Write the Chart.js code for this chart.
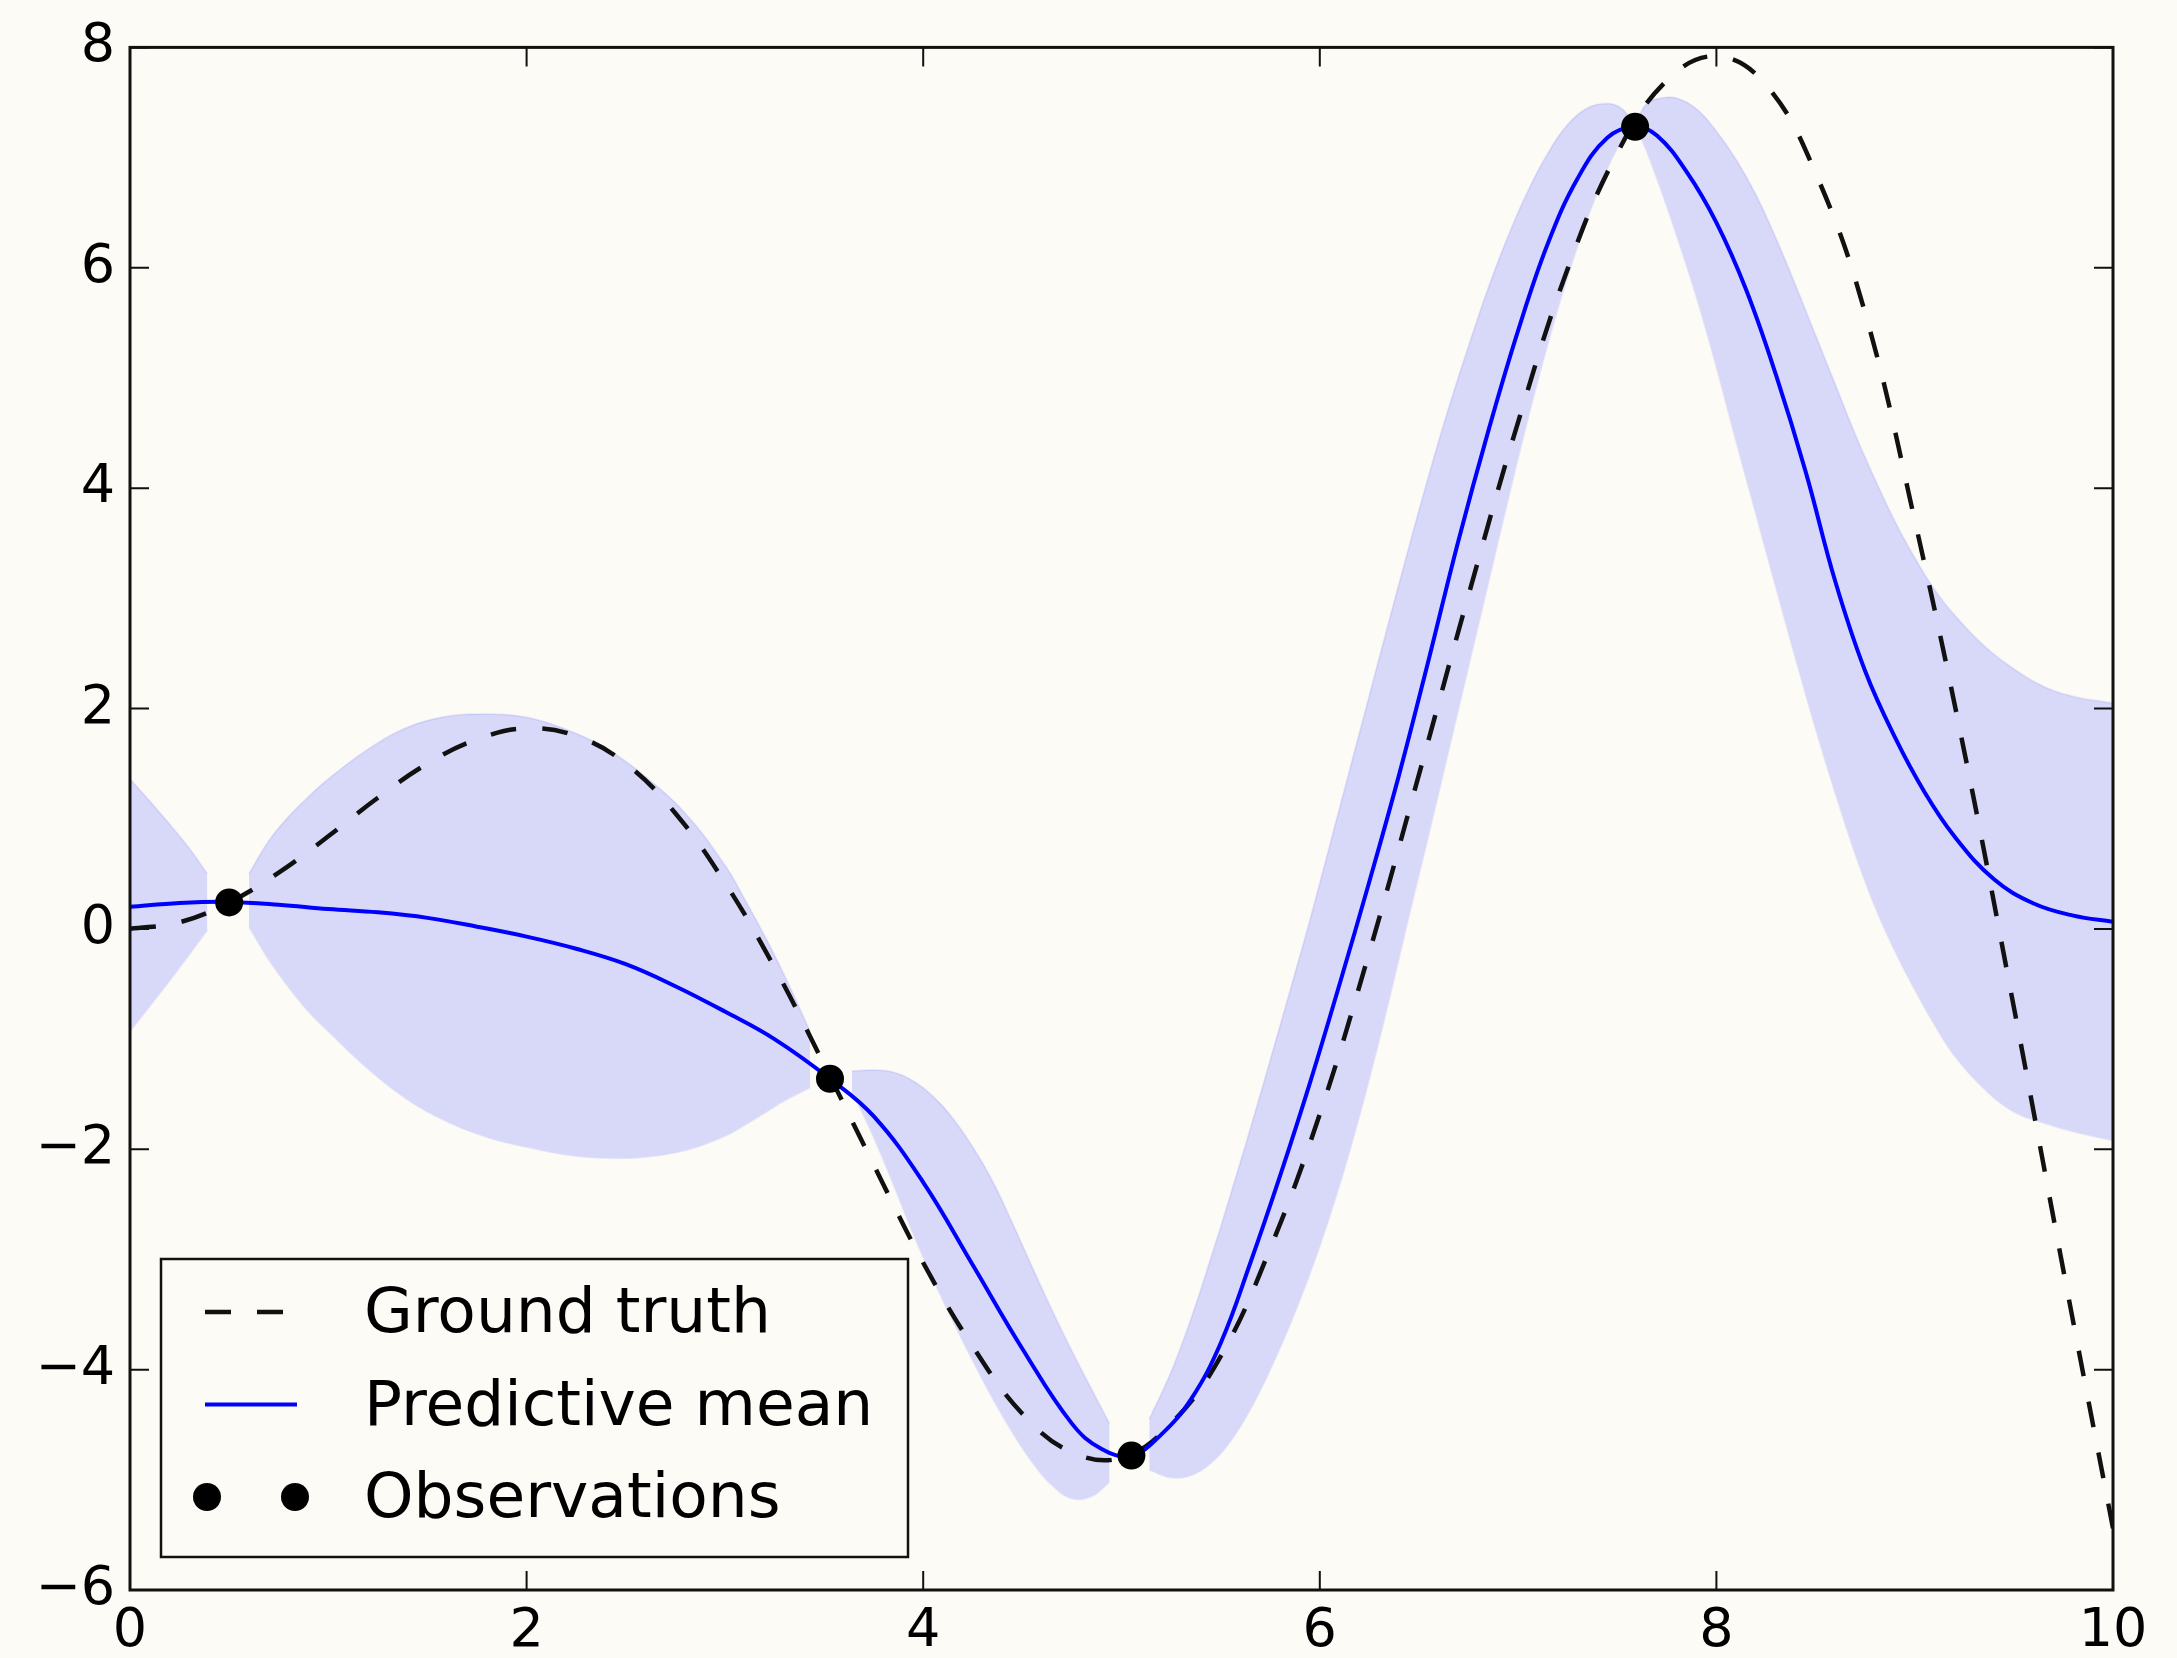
<!DOCTYPE html>
<html>
<head>
<meta charset="utf-8">
<title>Gaussian process regression</title>
<script src="https://cdn.jsdelivr.net/npm/chart.js@4.4.1/dist/chart.umd.min.js"></script>
<style>
  html, body { margin: 0; padding: 0; background: #fdfbf5; }
  #wrap { width: 2177px; height: 1658px; }
</style>
</head>
<body>
<div id="wrap"><canvas id="gp" width="2177" height="1658"></canvas></div>
<script>
// ------------------------------------------------------------------
// values
// ------------------------------------------------------------------

// dashed ground truth
var truthX = [0, 0.25, 0.5, 0.75, 1, 1.25, 1.5, 1.75, 2, 2.25, 2.5, 2.75, 3, 3.25, 3.5, 3.75, 4, 4.25, 4.5, 4.75,
              5, 5.25, 5.5, 5.75, 6, 6.25, 6.5, 6.75, 7, 7.25, 7.5, 7.75, 8, 8.25, 8.5, 8.75, 9, 9.25, 9.5, 9.75, 10];
var truthY = [0, 0.06, 0.24, 0.51, 0.84, 1.19, 1.5, 1.72, 1.82, 1.75, 1.5, 1.05, 0.42, -0.35, -1.23, -2.14, -3.03, -3.79, -4.4, -4.75,
              -4.8, -4.49, -3.88, -2.9, -1.68, -0.21, 1.4, 3.03, 4.6, 5.99, 7.04, 7.7, 7.92, 7.66, 6.86, 5.59, 3.71, 1.61, -0.71, -3.1, -5.44];

// blue predictive mean
var meanX = [0, 0.25, 0.5, 0.75, 1, 1.25, 1.5, 1.75, 2, 2.25, 2.5, 2.75, 3, 3.25, 3.53, 3.75, 4, 4.25, 4.5, 4.75, 4.9,
             5.05, 5.2, 5.35, 5.5, 5.65, 5.8, 5.95, 6.1, 6.25, 6.4, 6.55, 6.7, 6.85, 7, 7.15, 7.3, 7.45, 7.59,
             7.7, 7.85, 8, 8.15, 8.3, 8.45, 8.6, 8.75, 8.9, 9.05, 9.2, 9.4, 9.6, 9.8, 10];
var meanY = [0.2, 0.235, 0.245, 0.22, 0.18, 0.15, 0.1, 0.02, -0.07, -0.18, -0.32, -0.52, -0.75, -1.0, -1.36, -1.7, -2.3, -3.05, -3.81, -4.49, -4.72,
             -4.78, -4.59, -4.27, -3.76, -3.03, -2.24, -1.4, -0.5, 0.43, 1.4, 2.45, 3.53, 4.52, 5.43, 6.22, 6.81, 7.18, 7.28,
             7.2, 6.87, 6.41, 5.8, 5.03, 4.15, 3.15, 2.34, 1.74, 1.24, 0.84, 0.45, 0.23, 0.12, 0.065];

// shaded band (null = gap at an observation)
var bandX = [0, 0.1, 0.2, 0.3, 0.39, 0.5,
             0.6, 0.7, 0.8, 0.9, 1, 1.2, 1.4, 1.6, 1.8, 2, 2.2, 2.4, 2.6, 2.8, 3, 3.1, 3.2, 3.3, 3.43, 3.53,
             3.64, 3.75, 3.85, 3.95, 4.05, 4.15, 4.25, 4.35, 4.45, 4.55, 4.65, 4.75, 4.85, 4.94, 5.05,
             5.14, 5.25, 5.35, 5.45, 5.55, 5.65, 5.75, 5.85, 5.95, 6.05, 6.15, 6.25, 6.35, 6.45, 6.55, 6.65,
             6.75, 6.85, 6.95, 7.05, 7.15, 7.25, 7.35, 7.45, 7.52, 7.56, 7.59,
             7.61, 7.65, 7.72, 7.8, 7.9, 8, 8.1, 8.2, 8.3, 8.4, 8.5, 8.6, 8.7, 8.8, 8.9, 9, 9.1, 9.2, 9.35, 9.5, 9.65, 9.8, 10];
var bandUpper = [1.36, 1.16, 0.95, 0.73, 0.5, null,
                 0.5, 0.8, 1.02, 1.2, 1.36, 1.63, 1.83, 1.93, 1.95, 1.92, 1.81, 1.64, 1.38, 1.05, 0.58, 0.27, -0.06, -0.42, -0.93, null,
                 -1.29, -1.28, -1.3, -1.38, -1.52, -1.72, -1.98, -2.29, -2.67, -3.07, -3.46, -3.83, -4.18, -4.49, null,
                 -4.45, -4.02, -3.54, -2.99, -2.41, -1.81, -1.19, -0.56, 0.08, 0.76, 1.44, 2.12, 2.8, 3.47, 4.12, 4.73,
                 5.29, 5.82, 6.29, 6.7, 7.04, 7.3, 7.45, 7.49, 7.45, 7.37, null,
                 7.38, 7.49, 7.54, 7.54, 7.44, 7.24, 6.98, 6.66, 6.27, 5.84, 5.39, 4.94, 4.49, 4.08, 3.7, 3.37, 3.08, 2.85, 2.57, 2.36, 2.2, 2.11, 2.05];
var bandLower = [-0.93, -0.7, -0.47, -0.23, -0.01, null,
                 0.02, -0.28, -0.53, -0.75, -0.93, -1.27, -1.55, -1.75, -1.89, -1.98, -2.05, -2.08, -2.07, -2.01, -1.88, -1.78, -1.67, -1.56, -1.44, null,
                 -1.47, -1.89, -2.32, -2.77, -3.18, -3.56, -3.92, -4.26, -4.57, -4.84, -5.05, -5.17, -5.15, -5.02, null,
                 -4.91, -4.98, -4.96, -4.85, -4.65, -4.36, -4.0, -3.59, -3.13, -2.61, -2.02, -1.36, -0.64, 0.12, 0.86, 1.62,
                 2.38, 3.14, 3.9, 4.63, 5.31, 5.92, 6.45, 6.9, 7.15, 7.25, null,
                 7.22, 7.05, 6.71, 6.29, 5.73, 5.1, 4.42, 3.76, 3.1, 2.45, 1.82, 1.23, 0.68, 0.2, -0.2, -0.55, -0.87, -1.15, -1.45, -1.66, -1.76, -1.84, -1.92];

// black observation points
var obsX = [0.5, 3.53, 5.05, 7.59];
var obsY = [0.24, -1.36, -4.78, 7.28];

// axes
var xTicks = [0, 2, 4, 6, 8, 10];
var yTicks = [-6, -4, -2, 0, 2, 4, 6, 8];
var legendLabels = ['Ground truth', 'Predictive mean', 'Observations'];

// ------------------------------------------------------------------
// look
// ------------------------------------------------------------------
var bg = '#fdfbf5';
var ink = '#111111';
var fontName = "'DejaVu Sans', 'Liberation Sans', sans-serif";

function pts(xs, ys) {
	return xs.map(function (x, i) { return { x: x, y: ys[i] }; });
}

// matplotlib writes negative numbers with a real minus sign
function fmt(v) {
	return v < 0 ? '\u2212' + Math.abs(v) : String(v);
}

// page background
var paintBg = {
	id: 'paintBg',
	beforeDraw: function (chart) {
		var ctx = chart.ctx;
		ctx.save();
		ctx.fillStyle = bg;
		ctx.fillRect(0, 0, chart.width, chart.height);
		ctx.restore();
	}
};

// box round the plot and inward ticks on all four sides
var frameTicks = {
	id: 'frameTicks',
	afterDatasetsDraw: function (chart) {
		var a = chart.chartArea, ctx = chart.ctx;
		var sx = chart.scales.x, sy = chart.scales.y;
		var len = 19;
		ctx.save();
		ctx.strokeStyle = ink;
		ctx.lineWidth = 2;
		ctx.beginPath();
		xTicks.forEach(function (v) {
			var p = sx.getPixelForValue(v);
			ctx.moveTo(p, a.bottom); ctx.lineTo(p, a.bottom - len);
			ctx.moveTo(p, a.top); ctx.lineTo(p, a.top + len);
		});
		yTicks.forEach(function (v) {
			var p = sy.getPixelForValue(v);
			ctx.moveTo(a.left, p); ctx.lineTo(a.left + len, p);
			ctx.moveTo(a.right, p); ctx.lineTo(a.right - len, p);
		});
		ctx.stroke();
		ctx.lineWidth = 3;
		ctx.strokeRect(a.left, a.top, a.right - a.left, a.bottom - a.top);
		ctx.restore();
	}
};

// framed legend in the lower left corner, matplotlib style (two markers per entry)
var boxLegend = {
	id: 'boxLegend',
	afterDraw: function (chart) {
		var a = chart.chartArea, ctx = chart.ctx;
		var L = a.left + 31, R = a.left + 778, T = a.bottom - 331, B = a.bottom - 33;
		var hx0 = L + 44, hx1 = L + 136, tx = L + 203;
		var sets = [chart.data.datasets[2], chart.data.datasets[1], chart.data.datasets[0]];
		ctx.save();
		ctx.fillStyle = bg;
		ctx.fillRect(L, T, R - L, B - T);
		ctx.strokeStyle = ink;
		ctx.lineWidth = 2.5;
		ctx.strokeRect(L, T, R - L, B - T);

		ctx.font = '63px ' + fontName;
		ctx.textBaseline = 'alphabetic';
		ctx.textAlign = 'left';
		legendLabels.forEach(function (label, i) {
			var base = T + 73 + i * 92.5;
			var cy = base - 20;
			var ds = sets[i];
			if (ds.showLine === false) {
				ctx.fillStyle = ds.pointBackgroundColor;
				[hx0 + 2, hx1 - 2].forEach(function (px) {
					ctx.beginPath();
					ctx.arc(px, cy, ds.pointRadius, 0, Math.PI * 2);
					ctx.fill();
				});
			} else {
				ctx.strokeStyle = ds.borderColor;
				ctx.lineWidth = ds.borderWidth;
				ctx.setLineDash(ds.borderDash || []);
				ctx.beginPath();
				ctx.moveTo(hx0, cy);
				ctx.lineTo(hx1, cy);
				ctx.stroke();
				ctx.setLineDash([]);
			}
			ctx.fillStyle = '#000';
			ctx.fillText(label, tx, base);
		});
		ctx.restore();
	}
};

var chart = new Chart(document.getElementById('gp'), {
	type: 'line',
	data: {
		datasets: [
			{
				label: legendLabels[2],
				data: pts(obsX, obsY),
				showLine: false,
				pointRadius: 14,
				pointBackgroundColor: '#000000',
				pointBorderWidth: 0,
				borderColor: '#000000',
				order: 0
			},
			{
				label: legendLabels[1],
				data: pts(meanX, meanY),
				borderColor: '#0000ff',
				borderWidth: 4,
				pointRadius: 0,
				tension: 0.4,
				fill: false,
				order: 1
			},
			{
				label: legendLabels[0],
				data: pts(truthX, truthY),
				borderColor: '#111111',
				borderWidth: 4.5,
				borderDash: [26, 26],
				pointRadius: 0,
				tension: 0.4,
				fill: false,
				order: 2
			},
			{
				label: 'upper',
				data: pts(bandX, bandUpper),
				borderColor: 'rgba(0, 0, 255, 0.07)',
				borderWidth: 2,
				backgroundColor: '#d8d8f9',
				pointRadius: 0,
				spanGaps: false,
				tension: 0.4,
				fill: '+1',
				order: 3
			},
			{
				label: 'lower',
				data: pts(bandX, bandLower),
				borderColor: 'rgba(0, 0, 255, 0.07)',
				borderWidth: 2,
				pointRadius: 0,
				spanGaps: false,
				tension: 0.4,
				fill: false,
				order: 4
			}
		]
	},
	options: {
		responsive: false,
		devicePixelRatio: 1,
		animation: false,
		layout: { padding: { top: 44, right: 64, bottom: 0, left: 0 } },
		plugins: {
			legend: { display: false },
			tooltip: { enabled: false }
		},
		scales: {
			x: {
				type: 'linear',
				min: 0,
				max: 10,
				afterBuildTicks: function (s) { s.ticks = xTicks.map(function (v) { return { value: v }; }); },
				afterFit: function (s) { s.height = 68; },
				grid: { display: false, drawTicks: false },
				border: { display: false },
				ticks: {
					padding: 10,
					color: '#000',
					maxRotation: 0,
					font: { family: fontName, size: 54 },
					callback: function (v) { return fmt(v); }
				}
			},
			y: {
				type: 'linear',
				min: -6,
				max: 8,
				afterBuildTicks: function (s) { s.ticks = yTicks.map(function (v) { return { value: v }; }); },
				afterFit: function (s) { s.width = 130; },
				grid: { display: false, drawTicks: false },
				border: { display: false },
				ticks: {
					padding: 15,
					color: '#000',
					font: { family: fontName, size: 54 },
					callback: function (v) { return fmt(v); }
				}
			}
		}
	},
	plugins: [paintBg, frameTicks, boxLegend]
});
</script>
</body>
</html>
